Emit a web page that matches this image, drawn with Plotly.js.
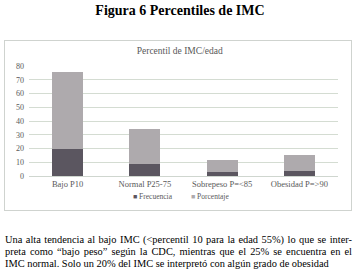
<!DOCTYPE html>
<html>
<head>
<meta charset="utf-8">
<script src="https://cdn.plot.ly/plotly-3.0.1.min.js"></script>
<style>
  html, body { margin: 0; padding: 0; background: #fff; width: 360px; height: 273px; overflow: hidden; }
  #title { position: absolute; left: 0; top: 3px; width: 360px; text-align: center;
    font-family: "Liberation Serif", "DejaVu Serif", serif; font-weight: bold; font-size: 14px; color: #000; }
  #box { position: absolute; left: 4px; top: 40px; width: 346px; height: 169px; border: 1px solid #cfd3cf; }
  #chart { position: absolute; left: 0; top: 0; width: 346px; height: 169px; }
  #para { position: absolute; left: 5px; top: 234px; width: 347px;
    font-family: "Liberation Serif", "DejaVu Serif", serif; font-size: 10.4px; line-height: 12.2px; color: #000; }
  #para .j { text-align: justify; text-align-last: justify; }
</style>
</head>
<body>
<div id="title">Figura 6 Percentiles de IMC</div>
<div id="box"><div id="chart"></div></div>
<div id="para">
  <div class="j">Una alta tendencia al bajo IMC (&lt;percentil 10 para la edad 55%) lo que se inter-</div>
  <div class="j">preta como “bajo peso” según la CDC, mientras que el 25% se encuentra en el</div>
  <div>IMC normal. Solo un 20% del IMC se interpretó con algún grado de obesidad</div>
</div>
<script>
const categories = ["Bajo P10", "Normal P25-75", "Sobrepeso P=<85", "Obesidad P=>90"];
const frecuencia = [20, 9, 3, 4];
const porcentaje = [55.6, 25, 8.3, 11.1];
const seriesNames = ["Frecuencia", "Porcentaje"];
const seriesColors = ["#5b5660", "#aeaaad"];
const chartTitle = "Percentil de IMC/edad";
const yTicks = [0, 10, 20, 30, 40, 50, 60, 70, 80];

const fontFam = '"Liberation Serif", "DejaVu Serif", serif';
const traces = [
  { type: "bar", name: seriesNames[0], x: categories, y: frecuencia,
    marker: { color: seriesColors[0] }, hoverinfo: "none" },
  { type: "bar", name: seriesNames[1], x: categories, y: porcentaje,
    marker: { color: seriesColors[1] }, hoverinfo: "none" }
];
// compact legend drawn as annotations (small square swatch + name)
const legendX = [0.33, 0.518];
const annotations = seriesNames.map((n, i) => ({
  xref: "paper", yref: "paper", x: legendX[i], y: -0.19, xanchor: "left", yanchor: "middle",
  showarrow: false, font: { family: fontFam, size: 7.5, color: "#595959" },
  text: '<span style="color:' + seriesColors[i] + ';font-size:7px">■</span> ' + n
}));
const layout = {
  width: 346, height: 169,
  margin: { l: 24, r: 13, t: 25, b: 34, autoexpand: false },
  paper_bgcolor: "rgba(0,0,0,0)", plot_bgcolor: "rgba(0,0,0,0)",
  barmode: "stack", bargap: 0.6, showlegend: false,
  font: { family: fontFam, size: 8, color: "#595959" },
  title: { text: chartTitle, font: { family: fontFam, size: 9.5, color: "#595959" },
    x: 0.505, xanchor: "center", y: 0.945, yanchor: "middle" },
  xaxis: { showgrid: false, showline: true, linecolor: "#cfd6cf", linewidth: 1,
    ticks: "", tickfont: { size: 8.5, color: "#595959" }, fixedrange: true },
  yaxis: { range: [0, 80], tickvals: yTicks, showgrid: true, gridcolor: "#d4dcd2",
    zeroline: false, showline: false, ticks: "", tickfont: { size: 8, color: "#595959" },
    ticklabelstandoff: 4, fixedrange: true },
  annotations: annotations
};
Plotly.newPlot("chart", traces, layout, { displayModeBar: false, staticPlot: true });
</script>
</body>
</html>
